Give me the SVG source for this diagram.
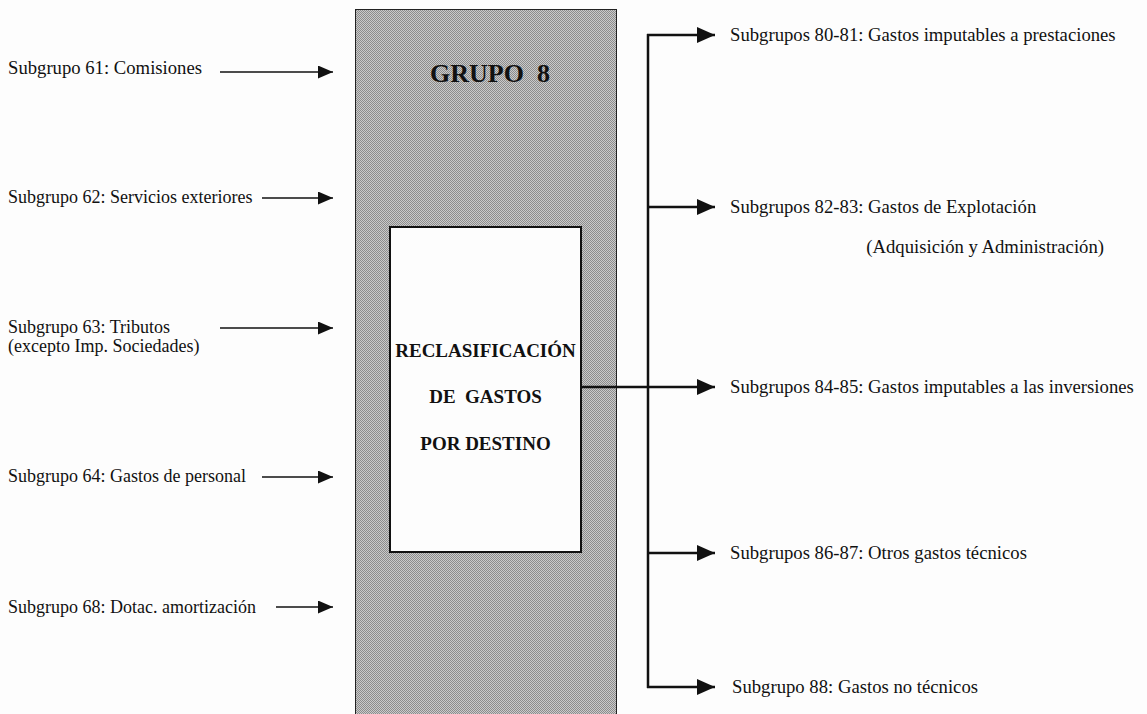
<svg xmlns="http://www.w3.org/2000/svg" width="1147" height="714" viewBox="0 0 1147 714">
<style>
.lbl{font-family:"Liberation Serif","Times New Roman",serif;font-size:18px;fill:#111}
.rl{font-size:18.7px}
.ttl{font-family:"Liberation Serif","Times New Roman",serif;font-weight:bold;fill:#111;text-anchor:middle}
.cl{fill:none;stroke:#111;stroke-width:1.5}
.cr{fill:none;stroke:#111;stroke-width:2.5}
</style>
<defs>
<pattern id="ht" width="2" height="2" patternUnits="userSpaceOnUse">
<rect width="2" height="2" fill="#cacaca"/>
<rect width="1" height="1" fill="#8c8c8c"/>
<rect x="1" y="1" width="1" height="1" fill="#8c8c8c"/>
</pattern>
<marker id="as" viewBox="0 0 15 13" refX="15" refY="6.5" markerWidth="15" markerHeight="13" markerUnits="userSpaceOnUse" orient="auto">
<path d="M0,0 L15,6.5 L0,13 z" fill="#111"/>
</marker>
<marker id="al" viewBox="0 0 18 16" refX="18" refY="8" markerWidth="18" markerHeight="16" markerUnits="userSpaceOnUse" orient="auto">
<path d="M0,0 L18,8 L0,16 z" fill="#111"/>
</marker>
</defs>
<rect width="1147" height="714" fill="#fdfdfd"/>

<g id="grupo8">
<rect x="355.5" y="9.5" width="261" height="720" fill="url(#ht)" stroke="#222" stroke-width="1"/>
<text class="ttl" x="490" y="82" font-size="26" xml:space="preserve">GRUPO  8</text>
</g>

<g id="reclasificacion">
<rect x="390" y="227" width="191" height="325" fill="#fdfdfd" stroke="#111" stroke-width="2"/>
<text class="ttl" x="485.5" y="357" font-size="19">RECLASIFICACIÓN</text>
<text class="ttl" x="485.5" y="403" font-size="19" xml:space="preserve">DE  GASTOS</text>
<text class="ttl" x="485.5" y="450" font-size="19">POR DESTINO</text>
</g>

<g id="sg61"><text class="lbl" x="8" y="74" textLength="194" lengthAdjust="spacingAndGlyphs">Subgrupo 61: Comisiones</text></g>
<g id="sg62"><text class="lbl" x="8" y="203">Subgrupo 62: Servicios exteriores</text></g>
<g id="sg63"><text class="lbl" x="8" y="333">Subgrupo 63: Tributos</text><text class="lbl" x="8" y="352">(excepto Imp. Sociedades)</text></g>
<g id="sg64"><text class="lbl" x="8" y="482">Subgrupo 64: Gastos de personal</text></g>
<g id="sg68"><text class="lbl" x="8" y="613">Subgrupo 68: Dotac. amortización</text></g>

<g id="sg80"><text class="lbl rl" x="730" y="41">Subgrupos 80-81: Gastos imputables a prestaciones</text></g>
<g id="sg82"><text class="lbl rl" x="730" y="213">Subgrupos 82-83: Gastos de Explotación</text><text class="lbl rl" x="1104" y="253" text-anchor="end">(Adquisición y Administración)</text></g>
<g id="sg84"><text class="lbl rl" x="730" y="393">Subgrupos 84-85: Gastos imputables a las inversiones</text></g>
<g id="sg86"><text class="lbl rl" x="730" y="559">Subgrupos 86-87: Otros gastos técnicos</text></g>
<g id="sg88"><text class="lbl rl" x="732" y="693">Subgrupo 88: Gastos no técnicos</text></g>

<g id="connectors">
<line class="cl" x1="220" y1="72" x2="333" y2="72" marker-end="url(#as)"/>
<line class="cl" x1="262" y1="198" x2="333" y2="198" marker-end="url(#as)"/>
<line class="cl" x1="220" y1="328" x2="333" y2="328" marker-end="url(#as)"/>
<line class="cl" x1="262" y1="477" x2="333" y2="477" marker-end="url(#as)"/>
<line class="cl" x1="276" y1="607" x2="333" y2="607" marker-end="url(#as)"/>
<line class="cr" x1="648" y1="34" x2="648" y2="688"/>
<line class="cr" x1="647" y1="35" x2="715" y2="35" marker-end="url(#al)"/>
<line class="cr" x1="647" y1="207" x2="715" y2="207" marker-end="url(#al)"/>
<line class="cr" x1="581" y1="387" x2="715" y2="387" marker-end="url(#al)"/>
<line class="cr" x1="647" y1="553" x2="715" y2="553" marker-end="url(#al)"/>
<line class="cr" x1="647" y1="687" x2="715" y2="687" marker-end="url(#al)"/>
</g>
</svg>
